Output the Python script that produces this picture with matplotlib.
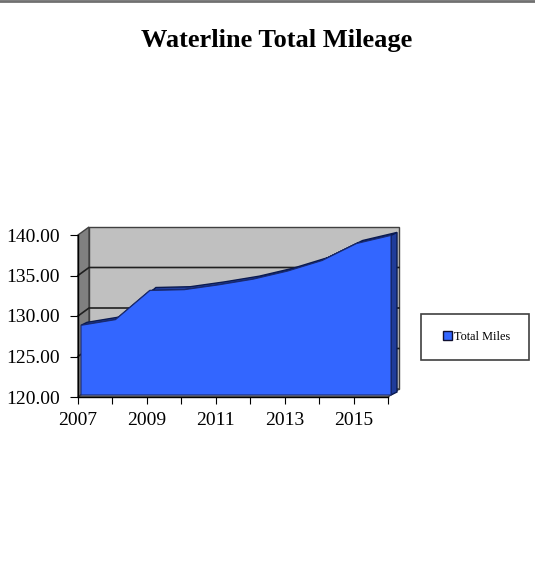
import matplotlib
matplotlib.use("Agg")
import matplotlib.pyplot as plt
import numpy as np
from matplotlib.lines import Line2D
from matplotlib.patches import Patch, Polygon, Rectangle

years = [2007, 2008, 2009, 2010, 2011, 2012, 2013, 2014, 2015, 2016]
total_miles = [128.6, 129.3, 132.9, 133.0, 133.6, 134.3, 135.3, 136.6, 138.7, 139.7]
y_ticks = [120, 125, 130, 135, 140]
x_tick_labels = ["2007", "", "2009", "", "2011", "", "2013", "", "2015", ""]
series_name = "Total Miles"
title = "Waterline Total Mileage"

W, H = 535, 577
WALL = (11, 8)      # depth of the back wall, pixels
AREA_FRONT = (3, 2)
AREA_BACK = (9, 5)

plt.rcParams["font.family"] = ["Liberation Serif", "DejaVu Serif"]

fig = plt.figure(figsize=(W / 100, H / 100), dpi=100)
ax = fig.add_axes([78 / W, 1 - 397 / H, (388 - 78) / W, (397 - 235) / H])
x0, x1 = years[0], years[-1]
y0, y1 = y_ticks[0], y_ticks[-1]
ax.set_xlim(x0, x1)
ax.set_ylim(y0, y1)
ax.patch.set_visible(False)
for side in ("top", "right"):
    ax.spines[side].set_visible(False)
for side in ("left", "bottom"):
    ax.spines[side].set_zorder(8)
    ax.spines[side].set_linewidth(1.0)


def shift(xs, ys, off):
    pts = ax.transData.transform(np.column_stack([xs, ys]).astype(float))
    pts += off
    return ax.transData.inverted().transform(pts)


def poly(pts, fc, ec, z, lw=1.0):
    ax.add_patch(Polygon(pts, closed=True, facecolor=fc, edgecolor=ec,
                         linewidth=lw, zorder=z, clip_on=False))


# walls and floor
back = shift([x0, x1, x1, x0], [y0, y0, y1, y1], WALL)
poly(back, "#c0c0c0", "#404040", 1)
side = np.vstack([[[x0, y0], [x0, y1]], shift([x0, x0], [y1, y0], WALL)])
poly(side, "#808080", "#404040", 1)
floor = np.vstack([[[x0, y0], [x1, y0]], shift([x1, x0], [y0, y0], WALL)])
poly(floor, "#909090", "#404040", 1)

for v in y_ticks[1:-1]:
    b = shift([x0, x1], [v, v], WALL)
    ax.add_line(Line2D([x0, b[0, 0], b[1, 0]], [v, b[0, 1], b[1, 1]],
                       color="#202020", linewidth=1.2, zorder=2, clip_on=False))

# 3d area
front_top = shift(years, total_miles, AREA_FRONT)
back_top = shift(years, total_miles, AREA_BACK)
front_base = shift([x1, x0], [y0, y0], AREA_FRONT)
back_base = shift([x1], [y0], AREA_BACK)

top_band = np.vstack([front_top, back_top[::-1]])
poly(top_band, "#23409e", "#0a1a50", 3)
right_face = np.vstack([front_top[-1:], front_base[:1], back_base, back_top[-1:]])
poly(right_face, "#1f3c9a", "#0a1a50", 3)
poly(np.vstack([front_top, front_base]), "#3366ff", "#1a2a70", 4, lw=0.8)

ax.set_xticks(years)
ax.set_xticklabels(x_tick_labels)
ax.set_yticks(y_ticks)
ax.set_yticklabels([f"{v:.2f}" for v in y_ticks])
ax.tick_params(axis="x", direction="out", length=5, labelsize=14, pad=6)
ax.tick_params(axis="y", direction="out", length=6, labelsize=14, pad=7)

fig.text(277 / W, 1 - 40 / H, title, ha="center", va="center",
         fontsize=19, fontweight="bold")

# legend
fig.add_artist(Rectangle((421 / W, 1 - 360 / H), 108 / W, 46 / H,
                         transform=fig.transFigure, fill=False,
                         edgecolor="#404040", linewidth=1.2))
fig.legend(handles=[Patch(facecolor="#3366ff", edgecolor="#101030", label=series_name)],
           loc="center", bbox_to_anchor=(477 / W, 1 - 337 / H), frameon=False,
           fontsize=8.8, handlelength=0.7, handleheight=0.7, handletextpad=0.2)

fig.add_artist(Line2D([0, 1], [1 - 1 / H, 1 - 1 / H], transform=fig.transFigure,
                      color="#707070", linewidth=2))

fig.savefig("out.png", dpi=100)
